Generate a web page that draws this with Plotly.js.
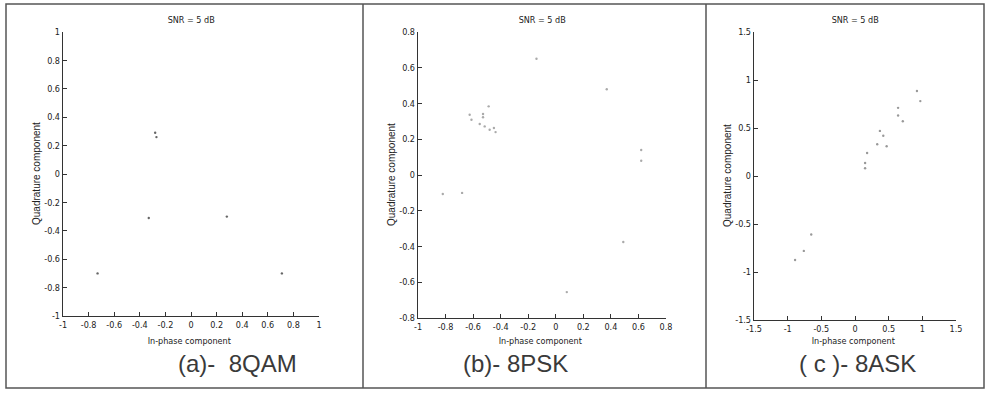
<!DOCTYPE html>
<html>
<head>
<meta charset="utf-8">
<script src="https://cdn.plot.ly/plotly-3.0.1.min.js"></script>
<style>
html,body{margin:0;padding:0;background:#fff}
#chart{width:988px;height:394px}
#chart svg text { font-stretch: condensed; }
</style>
</head>
<body>
<div id="chart"></div>
<script>
// ---- data ----
var qamI = [-0.28, -0.27, -0.33, 0.28, 0.71, -0.73];
var qamQ = [0.29, 0.26, -0.31, -0.30, -0.70, -0.70];

var pskI = [-0.625, -0.612, -0.528, -0.528, -0.552, -0.516, -0.487, -0.48, -0.449, -0.437, 0.37, 0.62, 0.62, 0.49, 0.08, -0.14, -0.82, -0.68];
var pskQ = [0.337, 0.309, 0.341, 0.323, 0.285, 0.272, 0.384, 0.253, 0.263, 0.24, 0.48, 0.14, 0.08, -0.375, -0.655, 0.65, -0.106, -0.10];

var askI = [-0.89, -0.76, -0.65, 0.15, 0.15, 0.18, 0.33, 0.47, 0.42, 0.37, 0.64, 0.64, 0.71, 0.92, 0.97];
var askQ = [-0.875, -0.78, -0.61, 0.08, 0.135, 0.24, 0.33, 0.31, 0.42, 0.47, 0.71, 0.63, 0.57, 0.885, 0.78];

// tick values
var qamTicks = [-1, -0.8, -0.6, -0.4, -0.2, 0, 0.2, 0.4, 0.6, 0.8, 1];
var pskXTicks = [-1, -0.8, -0.6, -0.4, -0.2, 0, 0.2, 0.4, 0.6, 0.8];
var pskYTicks = [-0.8, -0.6, -0.4, -0.2, 0, 0.2, 0.4, 0.6, 0.8];
var askTicks = [-1.5, -1, -0.5, 0, 0.5, 1, 1.5];

var panelTitle = "SNR = 5 dB";
var xTitle = "In-phase component";
var yTitle = "Quadrature component";
var captions = ["(a)-\u00a0 8QAM", "(b)- 8PSK", "( c )- 8ASK"];

// ---- layout helpers (pixel -> paper) ----
var W = 988, H = 394;
function px(x){ return x / W; }
function py(y){ return 1 - y / H; }

var narrow = "'DejaVu Sans', sans-serif";
var regular = "'Liberation Sans', Arial, sans-serif";

function axisBase(extra){
  var a = {
    showline: true, linecolor: '#333', linewidth: 1.2, mirror: false,
    showgrid: false, zeroline: false,
    ticks: 'inside', ticklen: 4, tickwidth: 1, tickcolor: '#333',
    tickfont: {family: narrow, size: 9, color: '#222'},
    fixedrange: true
  };
  for (var k in extra) a[k] = extra[k];
  return a;
}
function labels(arr){ return arr.map(function(v){ return String(v); }); }

var panels = [
  {x0: 63, x1: 319, y0: 32, y1: 316, xr: [-1, 1], xt: qamTicks, yr: [-1, 1], yt: qamTicks, ytx: 36},
  {x0: 418, x1: 666, y0: 32, y1: 318, xr: [-1, 0.8], xt: pskXTicks, yr: [-0.8, 0.8], yt: pskYTicks, ytx: 392},
  {x0: 754, x1: 956, y0: 32, y1: 320, xr: [-1.5, 1.5], xt: askTicks, yr: [-1.5, 1.5], yt: askTicks, ytx: 727}
];
var capX = [237, 515, 857];

var traces = [
  {x: qamI, y: qamQ, xaxis: 'x', yaxis: 'y', color: '#666'},
  {x: pskI, y: pskQ, xaxis: 'x2', yaxis: 'y2', color: '#aaa'},
  {x: askI, y: askQ, xaxis: 'x3', yaxis: 'y3', color: '#999'}
].map(function(t){
  return {type: 'scatter', mode: 'markers', x: t.x, y: t.y, xaxis: t.xaxis, yaxis: t.yaxis,
          marker: {size: 2.4, color: t.color}, hoverinfo: 'skip', showlegend: false};
});

var layout = {
  width: W, height: H,
  margin: {l: 0, r: 0, t: 0, b: 0},
  paper_bgcolor: '#fff', plot_bgcolor: 'rgba(0,0,0,0)',
  showlegend: false,
  annotations: [], shapes: []
};

panels.forEach(function(p, i){
  var s = i === 0 ? '' : String(i + 1);
  layout['xaxis' + s] = axisBase({
    domain: [px(p.x0), px(p.x1)], range: p.xr, tickmode: 'array', tickvals: p.xt, ticktext: labels(p.xt),
    anchor: 'y' + s
  });
  layout['yaxis' + s] = axisBase({
    domain: [py(p.y1), py(p.y0)], range: p.yr, tickmode: 'array', tickvals: p.yt, ticktext: labels(p.yt),
    anchor: 'x' + s
  });
  var cx = (p.x0 + p.x1) / 2;
  layout.annotations.push({xref: 'paper', yref: 'paper', x: px(cx), y: py(20), text: panelTitle,
    showarrow: false, xanchor: 'center', yanchor: 'middle', font: {family: narrow, size: 9, color: '#222'}});
  layout.annotations.push({xref: 'paper', yref: 'paper', x: px(cx - 2), y: py(341), text: xTitle,
    showarrow: false, xanchor: 'center', yanchor: 'middle', font: {family: narrow, size: 9, color: '#222'}});
  layout.annotations.push({xref: 'paper', yref: 'paper', x: px(p.ytx), y: py((p.y0 + p.y1) / 2), text: yTitle,
    showarrow: false, textangle: -90, xanchor: 'center', yanchor: 'middle', font: {family: regular, size: 10, color: '#222'}});
  layout.annotations.push({xref: 'paper', yref: 'paper', x: px(capX[i]), y: py(363), text: captions[i],
    showarrow: false, xanchor: 'center', yanchor: 'middle', font: {family: regular, size: 24, color: '#3a3a3a'}});
});

// outer frame and dividers
layout.shapes.push({type: 'rect', xref: 'paper', yref: 'paper', x0: px(6), x1: px(984), y0: py(388), y1: py(4),
  line: {color: '#555', width: 1.5}, fillcolor: 'rgba(0,0,0,0)'});
[363, 706].forEach(function(xv){
  layout.shapes.push({type: 'line', xref: 'paper', yref: 'paper', x0: px(xv), x1: px(xv), y0: py(388), y1: py(4),
    line: {color: '#555', width: 1.5}});
});

Plotly.newPlot('chart', traces, layout, {staticPlot: true, displayModeBar: false});
</script>
</body>
</html>
